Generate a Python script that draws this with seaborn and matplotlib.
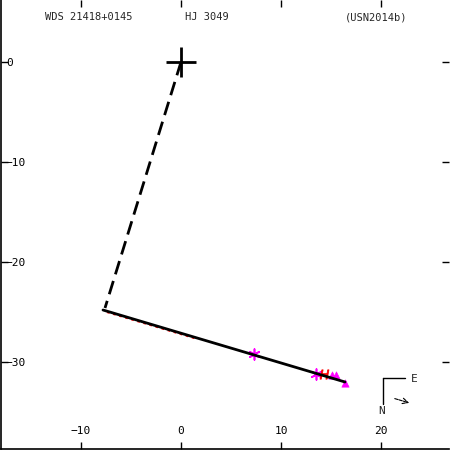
import matplotlib
matplotlib.use('Agg')
import matplotlib.pyplot as plt
import seaborn as sns
import pandas as pd

# header texts
star_id = 'WDS 21418+0145'
disc_name = 'HJ 3049'
ref_code = '(USN2014b)'

# orbit / motion line
path_x = [-7.8, 16.4]
path_y = [-24.8, -32.0]
# red segment just under the line
red_x = [-7.4, 1.6]
red_y = [-25.02, -27.70]
# dashed line from primary to start of path
dash_x = [0.0, -7.6]
dash_y = [0.0, -24.6]

# observations
ast_x = [7.3, 13.5]
ast_y = [-29.2, -31.2]
tri_x = [15.1, 15.5, 16.4]
tri_y = [-31.3, -31.3, -32.1]
h_x = [14.3]
h_y = [-31.2]

xticks = [-10, 0, 10, 20]
yticks = [0, -10, -20, -30]

sns.set_style('white')
plt.rcParams['font.family'] = ['DejaVu Sans Mono']

fig = plt.figure(figsize=(4.5, 4.5), dpi=100)
ax = fig.add_axes([1 / 450, 1 / 450, 448 / 450, 449 / 450])

ax.plot(red_x, red_y, color='red', lw=1.3, dashes=(1.5, 2))
sns.lineplot(x=path_x, y=path_y, color='black', lw=2, ax=ax, sort=False)
ax.plot(dash_x, dash_y, color='black', lw=2, dashes=(5, 2.5))
sns.scatterplot(x=ast_x, y=ast_y, marker=(6, 2, 0), s=60, color='magenta',
                linewidth=1.2, ax=ax)
sns.scatterplot(x=tri_x, y=tri_y, marker='^', s=28, color='magenta',
                edgecolor='magenta', ax=ax)
sns.scatterplot(x=h_x, y=h_y, marker='$H$', s=45, color='red',
                edgecolor='red', ax=ax)
ax.plot([0], [0], marker='+', markersize=22, mew=2, color='black')

ax.set_xlim(-18.0, 26.8)
ax.set_ylim(-38.7, 6.2)
ax.set_xticks(xticks)
ax.set_yticks(yticks)
ax.tick_params(direction='in', length=5, width=1, colors='black',
               top=True, right=True, bottom=True, left=True, labelsize=8)
ax.tick_params(axis='x', pad=-9)
ax.tick_params(axis='y', pad=-3.5)
for lab in ax.get_xticklabels():
    lab.set_va('bottom')
for lab in ax.get_yticklabels():
    lab.set_ha('left')

for side in ['top', 'right']:
    ax.spines[side].set_visible(False)
for side in ['left', 'bottom']:
    ax.spines[side].set_color('black')
    ax.spines[side].set_linewidth(1.2)

ax.text(0.098, 0.962, star_id, transform=ax.transAxes, fontsize=7.5,
        va='center', ha='left')
ax.text(0.41, 0.962, disc_name, transform=ax.transAxes, fontsize=7.5,
        va='center', ha='left')
ax.text(0.768, 0.962, ref_code, transform=ax.transAxes, fontsize=7.5,
        va='center', ha='left')

# compass
ax.plot([0.853, 0.853], [0.158, 0.100], color='black', lw=1,
        transform=ax.transAxes)
ax.plot([0.853, 0.902], [0.158, 0.158], color='black', lw=1,
        transform=ax.transAxes)
ax.text(0.922, 0.156, 'E', transform=ax.transAxes, fontsize=8,
        va='center', ha='center')
ax.text(0.850, 0.085, 'N', transform=ax.transAxes, fontsize=8,
        va='center', ha='center')
ax.annotate('', xy=(0.917, 0.101), xytext=(0.873, 0.114),
            xycoords='axes fraction',
            arrowprops=dict(arrowstyle='->', lw=0.8, color='black',
                            linestyle=(0, (3, 1))))

fig.savefig('out.png', dpi=100)
